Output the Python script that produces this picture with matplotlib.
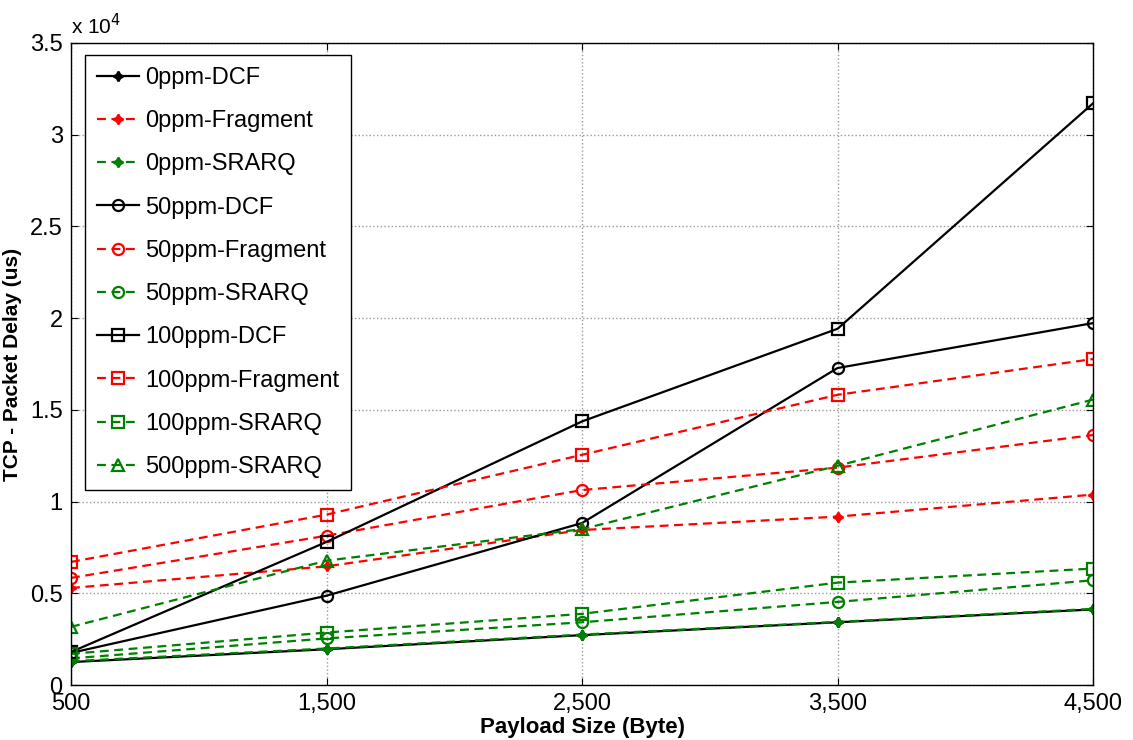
import matplotlib
matplotlib.use("Agg")
import matplotlib.pyplot as plt
from matplotlib.ticker import FuncFormatter

plt.rcParams['font.family'] = ['Liberation Sans', 'DejaVu Sans']

payload = [500, 1500, 2500, 3500, 4500]
x_tick_labels = ["500", "1,500", "2,500", "3,500", "4,500"]

# Packet delay in microseconds
dcf_0 = [1250, 1950, 2720, 3420, 4120]
frag_0 = [5290, 6470, 8450, 9180, 10380]
srarq_0 = [1300, 1990, 2750, 3440, 4150]
dcf_50 = [1750, 4870, 8830, 17280, 19730]
frag_50 = [5840, 8140, 10630, 11850, 13630]
srarq_50 = [1450, 2540, 3420, 4530, 5710]
dcf_100 = [1800, 7800, 14370, 19420, 31710]
frag_100 = [6710, 9290, 12550, 15820, 17770]
srarq_100 = [1700, 2860, 3880, 5580, 6350]
srarq_500 = [3170, 6780, 8500, 11950, 15560]

series = [
    ("0ppm-DCF", dcf_0),
    ("0ppm-Fragment", frag_0),
    ("0ppm-SRARQ", srarq_0),
    ("50ppm-DCF", dcf_50),
    ("50ppm-Fragment", frag_50),
    ("50ppm-SRARQ", srarq_50),
    ("100ppm-DCF", dcf_100),
    ("100ppm-Fragment", frag_100),
    ("100ppm-SRARQ", srarq_100),
    ("500ppm-SRARQ", srarq_500),
]

green = "#008000"
red = "#ff0000"
styles = [
    dict(color="black", ls="-", marker=(4, 1, 0), mfc="black", ms=7),
    dict(color=red, ls="--", marker=(4, 1, 0), mfc=red, ms=7),
    dict(color=green, ls="--", marker=(4, 1, 0), mfc=green, ms=7),
    dict(color="black", ls="-", marker="o", mfc="none", ms=8),
    dict(color=red, ls="--", marker="o", mfc="none", ms=8),
    dict(color=green, ls="--", marker="o", mfc="none", ms=8),
    dict(color="black", ls="-", marker="s", mfc="none", ms=8),
    dict(color=red, ls="--", marker="s", mfc="none", ms=8),
    dict(color=green, ls="--", marker="s", mfc="none", ms=8),
    dict(color=green, ls="--", marker="^", mfc="none", ms=9),
]

fig = plt.figure(figsize=(11.33, 7.40), dpi=100)
ax = fig.add_axes([0.0627, 0.0743, 0.9020, 0.8676])

for (label, values), st in zip(series, styles):
    ax.plot(payload, values, label=label, lw=1.6, mew=1.6,
            dashes=(4, 2.5) if st["ls"] == "--" else (None, None),
            **st)

ax.set_xlim(500, 4500)
ax.set_ylim(0, 35000)
ax.set_xticks(payload)
ax.set_xticklabels(x_tick_labels)
ax.set_yticks([0, 5000, 10000, 15000, 20000, 25000, 30000, 35000])
ax.yaxis.set_major_formatter(FuncFormatter(lambda v, p: f"{v / 1e4:g}"))
ax.tick_params(direction="in", labelsize=17, length=5, top=True, right=True)
ax.tick_params(axis="x", pad=6)
ax.tick_params(axis="y", pad=6)
ax.grid(True, color="#999999", ls=":", lw=1.0)
for s in ax.spines.values():
    s.set_linewidth(1.0)

ax.text(0.0, 1.008, r"x 10$^{4}$", transform=ax.transAxes, fontsize=15,
        ha="left", va="bottom")

ax.set_xlabel("Payload Size (Byte)", fontsize=16, fontweight="bold")
ax.xaxis.set_label_coords(0.5, -0.05)
ax.set_ylabel("TCP - Packet Delay (us)", fontsize=15, fontweight="bold")
ax.yaxis.set_label_coords(-0.048, 0.5)

leg = ax.legend(loc="upper left", bbox_to_anchor=(0.0137, 0.981), fontsize=17,
                frameon=True, fancybox=False, framealpha=1, edgecolor="black",
                handlelength=1.8, handletextpad=0.25, labelspacing=0.9,
                borderpad=0.5, borderaxespad=0)
leg.get_frame().set_linewidth(1.0)

fig.savefig("out.png", dpi=100)
